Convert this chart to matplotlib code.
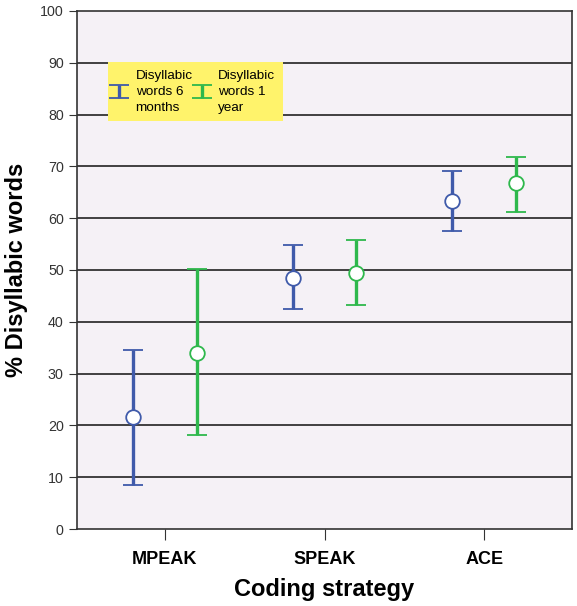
import numpy as np
import matplotlib
matplotlib.use('Agg')
import matplotlib.pyplot as plt

plt.rcParams['font.family'] = ['Liberation Sans', 'DejaVu Sans']

categories = ['MPEAK', 'SPEAK', 'ACE']
series_names = ['Disyllabic\nwords 6\nmonths', 'Disyllabic\nwords 1\nyear']

mean_6m = [21.7, 48.5, 63.4]
low_6m = [8.5, 42.4, 57.6]
high_6m = [34.6, 54.9, 69.1]

mean_1y = [34.0, 49.5, 66.7]
low_1y = [18.2, 43.3, 61.1]
high_1y = [50.1, 55.7, 71.8]

colors = ['#3F5AAA', '#2EB84C']

fig = plt.figure(figsize=(5.77, 6.06), dpi=100)
ax = fig.add_axes([0.1334, 0.127, 0.858, 0.855])
ax.set_facecolor('#F5F1F6')

x = np.arange(len(categories))
offset = 0.2
handles = []
for i, (m, lo, hi) in enumerate([(mean_6m, low_6m, high_6m), (mean_1y, low_1y, high_1y)]):
    m = np.array(m)
    yerr = [m - np.array(lo), np.array(hi) - m]
    h = ax.errorbar(x + (i * 2 - 1) * offset, m, yerr=yerr, fmt='o', color=colors[i],
                    ecolor=colors[i], elinewidth=2.4, capsize=7, capthick=3,
                    markersize=10.5, markerfacecolor='white', markeredgecolor=colors[i],
                    markeredgewidth=1.3, zorder=3)
    handles.append(h)

for yv in range(10, 100, 10):
    ax.axhline(yv, color='#222222', lw=1.2, zorder=1)

ax.set_xlim(-0.55, 2.55)
ax.set_ylim(0, 100)
ax.set_yticks(range(0, 101, 10))
ax.set_xticks(x)
ax.set_xticklabels(categories, fontsize=13, fontweight='bold')
ax.tick_params(axis='y', labelsize=10.3, labelcolor='#333333', length=6, color='#333333')
ax.tick_params(axis='x', length=8, color='#333333', pad=8)
for s in ax.spines.values():
    s.set_color('#333333')
    s.set_linewidth(1.2)

ax.set_xlabel('Coding strategy', fontsize=17, fontweight='bold', labelpad=7)
ax.set_ylabel('% Disyllabic words', fontsize=17, fontweight='bold', labelpad=9)

leg = ax.legend(handles, series_names, ncol=2, loc='upper left',
                bbox_to_anchor=(0.0626, 0.901), borderaxespad=0,
                fontsize=9.7, frameon=True, fancybox=False, facecolor='#FFF36B',
                edgecolor='none', framealpha=1, handlelength=0.6, handletextpad=0.9,
                columnspacing=0.4, borderpad=0.55, markerscale=0)
for t in leg.get_texts():
    t.set_linespacing(1.45)
leg.set_zorder(5)

fig.savefig('out.png', dpi=100)
